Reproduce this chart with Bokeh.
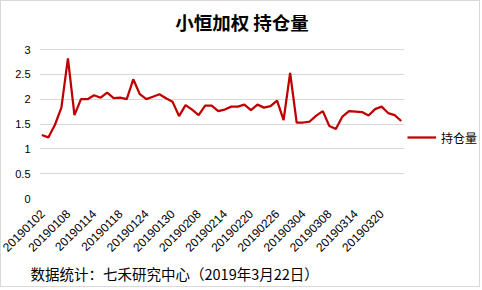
import math
from bokeh.plotting import figure
from bokeh.models import (Range1d, Legend, LegendItem, FixedTicker, Label,
                          NumeralTickFormatter, Title, BoxAnnotation)
from bokeh.embed import file_html
from bokeh.resources import INLINE

title_text = "小恒加权 持仓量"
series_name = "持仓量"
footer_text = "数据统计：七禾研究中心（2019年3月22日）"

tick_labels = ["20190102", "20190108", "20190114", "20190118", "20190124",
               "20190130", "20190208", "20190214", "20190220", "20190226",
               "20190304", "20190308", "20190314", "20190320"]
tick_index = [0, 4, 8, 12, 16, 20, 24, 28, 32, 36, 40, 44, 48, 52]

values = [1.28, 1.23, 1.48, 1.83, 2.82, 1.68, 2.00, 2.00, 2.08, 2.03,
          2.13, 2.02, 2.03, 2.00, 2.40, 2.10, 2.00, 2.05, 2.10, 2.02,
          1.95, 1.66, 1.88, 1.79, 1.68, 1.87, 1.87, 1.76, 1.79, 1.85,
          1.85, 1.89, 1.78, 1.89, 1.83, 1.86, 1.97, 1.58, 2.53, 1.53,
          1.53, 1.55, 1.67, 1.76, 1.46, 1.40, 1.65, 1.76, 1.75, 1.74,
          1.67, 1.80, 1.85, 1.72, 1.68, 1.56]
y_ticks = [0, 0.5, 1, 1.5, 2, 2.5, 3]

x = list(range(len(values)))

# category area is 365 px wide inside a 441 px frame; the rest holds the legend
x_start = -0.35
x_end_data = len(values) - 0.5
x_end = x_start + 441 / (365 / (x_end_data - x_start))
# value area 0..3 spans 149 px; the frame reaches 48 px higher to hold the title
y_top = y_ticks[-1]
y_end = y_top + 48 / (149 / y_top)

p = figure(width=480, height=287, output_backend="svg", toolbar_location=None,
           title=None,
           x_range=Range1d(x_start, x_end), y_range=Range1d(0, y_end),
           min_border_left=38, min_border_right=1,
           min_border_top=0, min_border_bottom=90,
           styles={"border": "1px solid #D9D9D9"})
p.outline_line_color = None
p.background_fill_color = "white"
p.border_fill_color = "white"

# y axis
p.yaxis.ticker = FixedTicker(ticks=y_ticks)
p.yaxis.formatter = NumeralTickFormatter(format="0.[0]")
p.yaxis.axis_line_color = None
p.yaxis.major_tick_line_color = None
p.yaxis.minor_tick_line_color = None
p.yaxis.major_tick_out = 0
p.yaxis.major_tick_in = 0
p.yaxis.major_label_standoff = 9
p.yaxis.major_label_text_font = "Liberation Sans"
p.yaxis.major_label_text_font_size = "11px"
p.yaxis.major_label_text_color = "#000000"

# x axis
p.xaxis.ticker = FixedTicker(ticks=tick_index)
p.xaxis.major_label_overrides = {i: s for i, s in zip(tick_index, tick_labels)}
p.xaxis.major_label_orientation = math.pi / 4
p.xaxis.axis_line_color = None
p.xaxis.major_tick_line_color = None
p.xaxis.minor_tick_line_color = None
p.xaxis.major_tick_out = 0
p.xaxis.major_tick_in = 0
p.xaxis.major_label_standoff = 13
p.xaxis.major_label_text_font = "Liberation Sans"
p.xaxis.major_label_text_font_size = "12px"
p.xaxis.major_label_text_color = "#000000"

p.xgrid.visible = False
p.ygrid.grid_line_color = "#D9D9D9"
p.ygrid.grid_line_width = 1

r = p.line(x, values, line_color="#C00000", line_width=2.25)

# blank strip to the right of the category area (legend area, no gridlines)
p.add_layout(BoxAnnotation(left=x_end_data, fill_color="white", fill_alpha=1,
                           line_color=None))

legend = Legend(items=[LegendItem(label=series_name, renderers=[r])],
                location=(368, 52), orientation="vertical",
                border_line_color=None, background_fill_alpha=0,
                padding=0, margin=0, spacing=0,
                glyph_width=29, glyph_height=18, label_height=18,
                label_standoff=5, label_text_font="Noto Sans CJK SC",
                label_text_font_size="12px", label_text_color="#000000")
p.add_layout(legend)

p.add_layout(Label(x=202.5, y=177, x_units="screen", y_units="screen",
                   text=title_text, text_align="center", text_baseline="middle",
                   text_font="Noto Sans CJK SC", text_font_style="bold",
                   text_font_size="18.5px", text_color="#000000"))

p.add_layout(Title(text=footer_text, align="left", offset=-9, standoff=4,
                   text_font="Noto Sans CJK SC", text_font_style="normal",
                   text_font_size="14.5px", text_color="#000000"), "below")

open("out.html", "w").write(file_html(p, INLINE))
